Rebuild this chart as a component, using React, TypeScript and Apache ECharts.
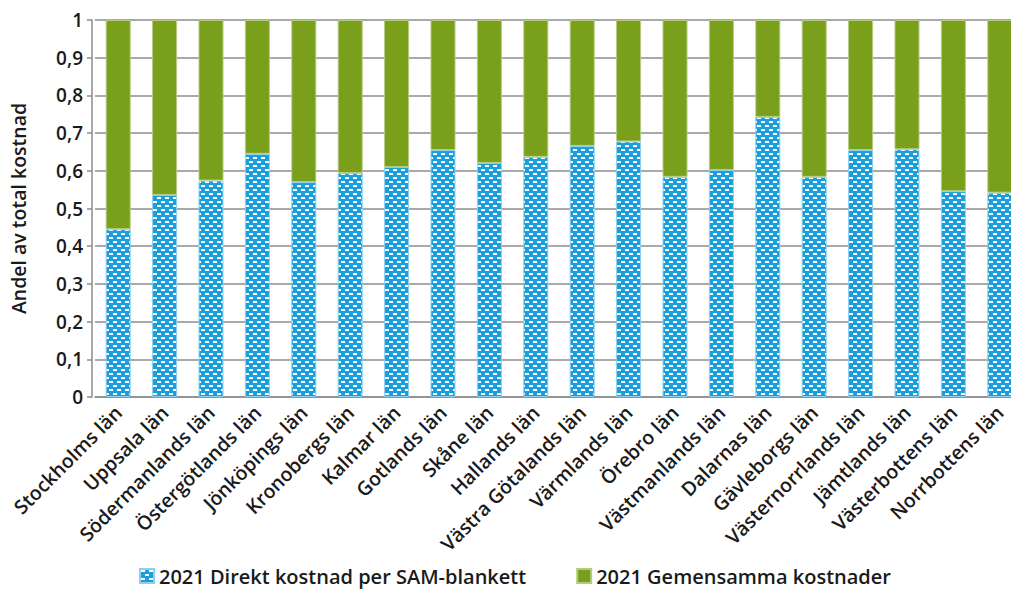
import React, { useEffect, useRef } from "react";
import * as echarts from "echarts";

const categories = [
  "Stockholms län", "Uppsala län", "Södermanlands län", "Östergötlands län",
  "Jönköpings län", "Kronobergs län", "Kalmar län", "Gotlands län",
  "Skåne län", "Hallands län", "Västra Götalands län", "Värmlands län",
  "Örebro län", "Västmanlands län", "Dalarnas län", "Gävleborgs län",
  "Västernorrlands län", "Jämtlands län", "Västerbottens län", "Norrbottens län",
];

const direktKostnad = [
  0.445, 0.536, 0.574, 0.645, 0.570, 0.594, 0.610, 0.655, 0.621, 0.637,
  0.666, 0.678, 0.584, 0.602, 0.743, 0.584, 0.655, 0.657, 0.546, 0.542,
];

const gemensammaKostnader = [
  0.555, 0.464, 0.426, 0.355, 0.430, 0.406, 0.390, 0.345, 0.379, 0.363,
  0.334, 0.322, 0.416, 0.398, 0.257, 0.416, 0.345, 0.343, 0.454, 0.458,
];

const yTicks = [0, 0.1, 0.2, 0.3, 0.4, 0.5, 0.6, 0.7, 0.8, 0.9, 1];

const seriesNames = ["2021 Direkt kostnad per SAM-blankett", "2021 Gemensamma kostnader"];
const yAxisName = "Andel av total kostnad";

const BLUE = "#1a9fdc";
const GREEN = "#7a9f1a";
const FONT = "'Open Sans', 'Noto Sans', sans-serif";

function makePattern(): HTMLCanvasElement {
  const c = document.createElement("canvas");
  c.width = 8;
  c.height = 8;
  const ctx = c.getContext("2d")!;
  ctx.fillStyle = BLUE;
  ctx.fillRect(0, 0, 8, 8);
  ctx.fillStyle = "#ffffff";
  ctx.fillRect(1, 1, 4, 2);
  ctx.fillRect(5, 5, 3, 2);
  ctx.fillRect(0, 5, 1, 2);
  return c;
}

export default function App() {
  const ref = useRef<HTMLDivElement>(null);
  useEffect(() => {
    if (!ref.current) return;
    const chart = echarts.init(ref.current, null, { renderer: "svg" });
    const pattern = makePattern();
    chart.setOption({
      animation: false,
      grid: { left: 92, top: 20, right: 0, bottom: 194, containLabel: false },
      legend: {
        bottom: 0,
        left: 134,
        itemWidth: 14,
        itemHeight: 14,
        itemGap: 50,
        icon: "rect",
        textStyle: { fontFamily: FONT, fontSize: 20, fontWeight: 600, color: "#1a1a1a" },
        data: seriesNames,
      },
      xAxis: {
        type: "category",
        data: categories,
        axisLine: { lineStyle: { color: "#8c8c8c", width: 1.5 } },
        axisTick: { show: false },
        axisLabel: {
          rotate: 45,
          interval: 0,
          margin: 12,
          fontFamily: FONT,
          fontSize: 19.5,
          fontWeight: 600,
          color: "#1a1a1a",
        },
      },
      yAxis: {
        type: "value",
        min: 0,
        max: 1,
        interval: 0.1,
        offset: 3,
        name: yAxisName,
        nameLocation: "middle",
        nameGap: 64,
        nameTextStyle: { fontFamily: FONT, fontSize: 19.5, fontWeight: 600, color: "#1a1a1a" },
        axisLine: { show: true, lineStyle: { color: "#8c8c8c", width: 1.5 } },
        axisTick: { show: true, length: 5, lineStyle: { color: "#8c8c8c", width: 1.5 } },
        splitLine: { lineStyle: { color: "#8c8c8c", width: 1.5 } },
        axisLabel: {
          margin: 9,
          fontFamily: FONT,
          fontSize: 19,
          fontWeight: 600,
          color: "#1a1a1a",
          formatter: (v: number) => {
            const t = yTicks.find((x) => Math.abs(x - v) < 1e-6);
            return String(t ?? v).replace(".", ",");
          },
        },
      },
      series: [
        {
          name: seriesNames[0],
          type: "bar",
          stack: "total",
          barWidth: 25,
          data: direktKostnad,
          itemStyle: {
            color: { image: pattern, repeat: "repeat" },
            borderColor: "#8ccfee",
            borderWidth: 1,
          },
        },
        {
          name: seriesNames[1],
          type: "bar",
          stack: "total",
          barWidth: 25,
          data: gemensammaKostnader,
          itemStyle: { color: GREEN, borderColor: "#b5cb80", borderWidth: 1 },
        },
      ],
    });
    return () => chart.dispose();
  }, []);
  return (
    <div style={{ position: "absolute", left: 0, top: 0, width: 1011, height: 591, overflow: "hidden" }}>
      <div ref={ref} style={{ width: 1023, height: 591 }} />
    </div>
  );
}
